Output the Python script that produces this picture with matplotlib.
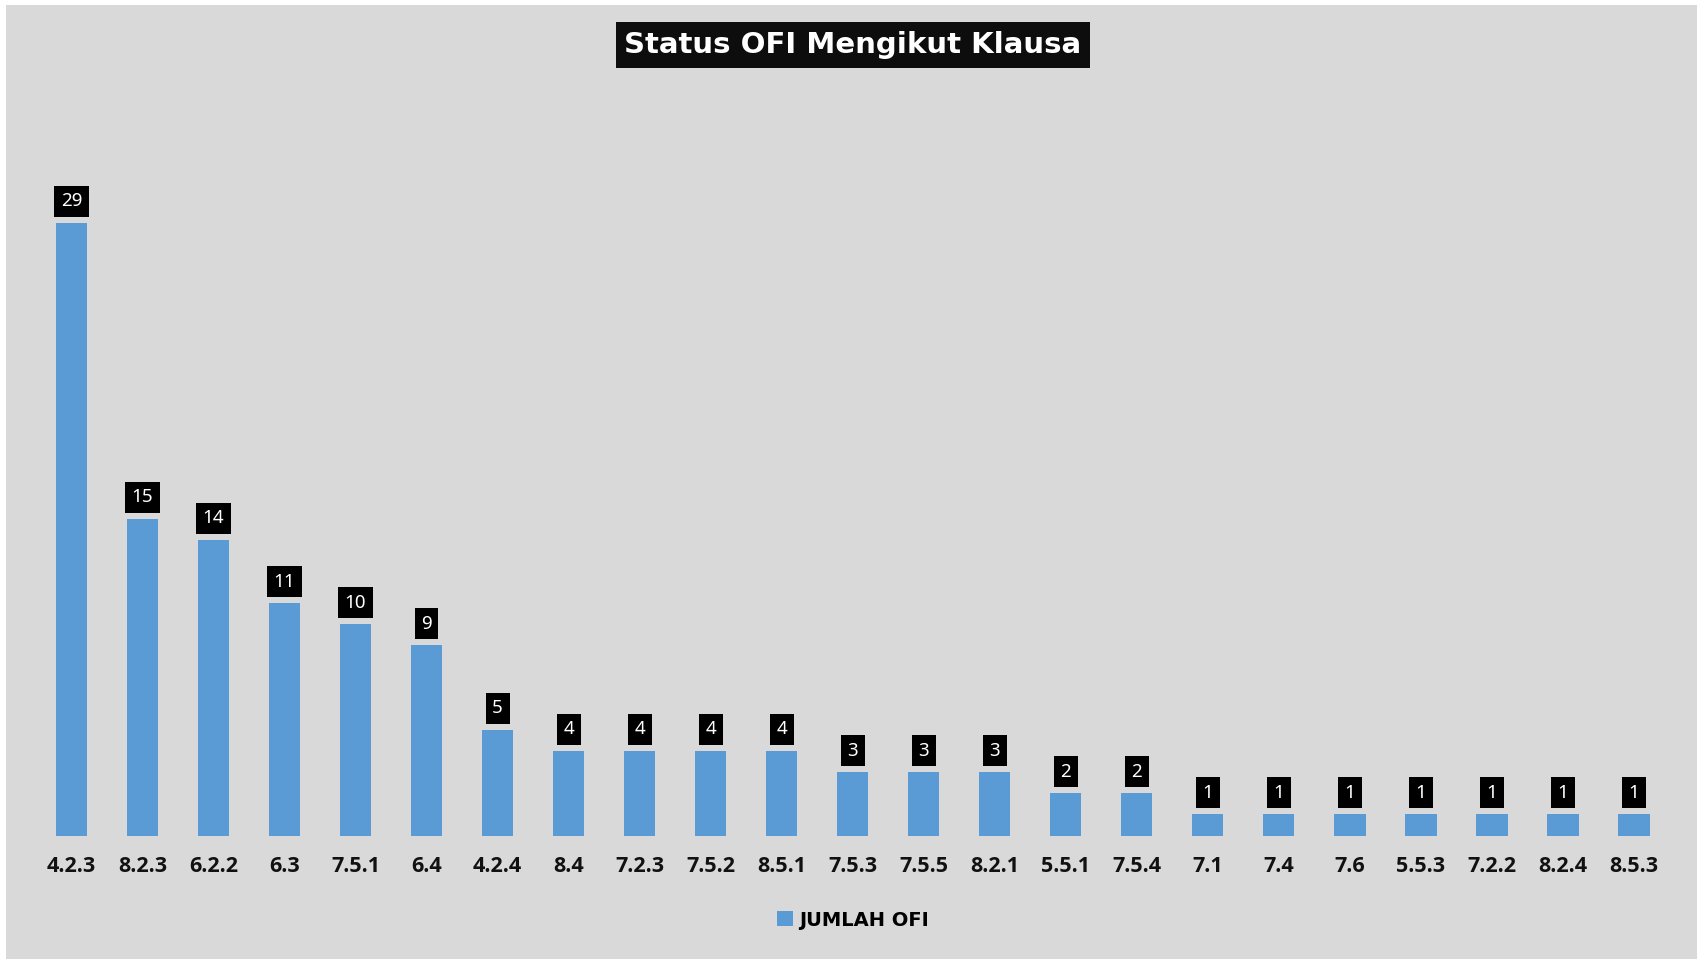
import matplotlib.pyplot as plt
from matplotlib.patches import Rectangle

clauses = ["4.2.3", "8.2.3", "6.2.2", "6.3", "7.5.1", "6.4", "4.2.4", "8.4", "7.2.3",
           "7.5.2", "8.5.1", "7.5.3", "7.5.5", "8.2.1", "5.5.1", "7.5.4", "7.1", "7.4",
           "7.6", "5.5.3", "7.2.2", "8.2.4", "8.5.3"]
jumlah_ofi = [29, 15, 14, 11, 10, 9, 5, 4, 4, 4, 4, 3, 3, 3, 2, 2, 1, 1, 1, 1, 1, 1, 1]

W, H = 1697, 959
bg = "#d9d9d9"
bar_color = "#5b9bd5"

fig = plt.figure(figsize=(W / 100, H / 100), dpi=100, facecolor="white")
fig.patches.append(Rectangle((6 / W, 0), 1, 1 - 5 / H, transform=fig.transFigure,
                             facecolor=bg, edgecolor="none", zorder=-5))

# axes placement: first bar centre ~71px, last ~1634px, baseline ~835px, 29 -> ~223px
step = (1634 - 71.4) / 22
left_px = 71.4 - step / 2
right_px = 1634 + step / 2
base_px = 835.5
unit_px = (835.5 - 223) / 29
top_px = base_px - unit_px * 35
ax = fig.add_axes([left_px / W, 1 - base_px / H, (right_px - left_px) / W,
                   (base_px - top_px) / H])
ax.set_facecolor("none")

x = range(len(clauses))
bars = ax.bar(x, jumlah_ofi, width=0.44, color=bar_color, label="JUMLAH OFI", zorder=2)
ax.set_xlim(-0.5, len(clauses) - 0.5)
ax.set_ylim(0, 35)

for xi, v in zip(x, jumlah_ofi):
    ax.annotate(str(v), (xi, v), xytext=(0, 15.5), textcoords="offset points",
                ha="center", va="center", fontsize=13.5, color="white", family="Noto Sans",
                bbox=dict(boxstyle="square,pad=0.35", facecolor="black", edgecolor="none"))

ax.set_xticks(list(x))
ax.set_xticklabels(clauses, fontsize=15.5, fontweight="bold", color="#111111",
                   family=["Open Sans", "DejaVu Sans"])
ax.tick_params(axis="x", length=0, pad=15)
ax.set_yticks([])
for s in ax.spines.values():
    s.set_visible(False)

fig.text(853 / W, 1 - 45 / H, "Status OFI Mengikut Klausa", ha="center", va="center",
         fontsize=21, fontweight="bold", color="white",
         bbox=dict(boxstyle="square,pad=0.3", facecolor="#0d0d0d", edgecolor="none"))

fig.legend(handles=[bars], labels=["JUMLAH OFI"], loc="center", bbox_to_anchor=(853 / W, 1 - 920 / H),
           frameon=False, prop=dict(size=14, weight="bold"), handlelength=0.8, handleheight=0.8,
           handletextpad=0.3)

fig.savefig("out.png", dpi=100, facecolor=fig.get_facecolor())
